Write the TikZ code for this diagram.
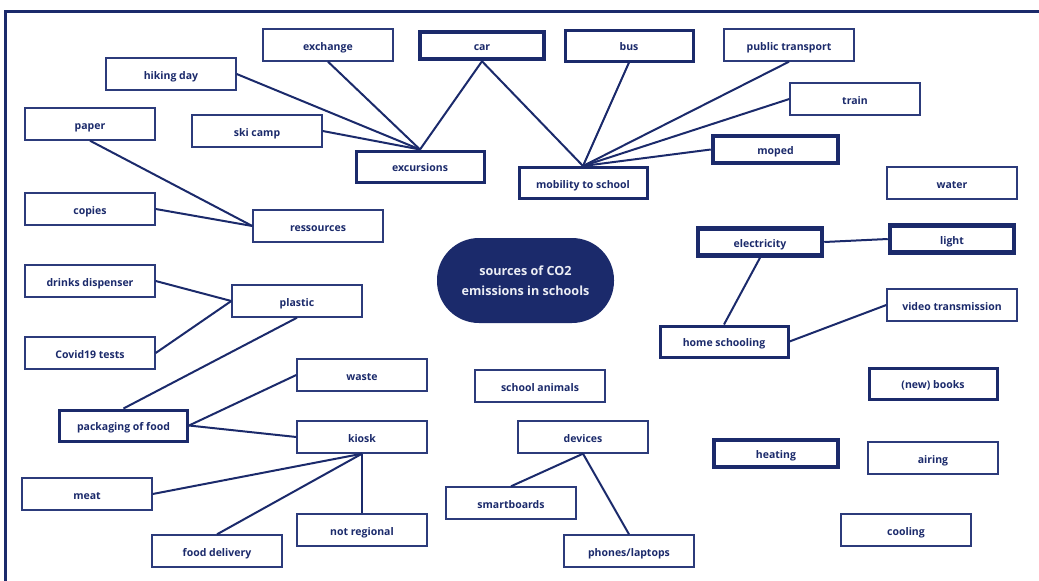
\documentclass[tikz,border=0pt]{standalone}
\usepackage{fontspec}
\setmainfont{Open Sans}
\definecolor{navy}{HTML}{1B2A6B}
\definecolor{thinline}{HTML}{2C3B7B}
\definecolor{paletext}{HTML}{ECEEF5}
\tikzset{
  box/.style={draw=thinline, line width=1.4pt, minimum width=130pt, minimum height=32pt, inner sep=0pt,
    text=navy, font=\fontsize{10.5}{12}\selectfont\bfseries, fill=white, text height=10pt, text depth=0pt},
  midbox/.style={box, draw=navy, line width=3pt, minimum width=128pt, minimum height=31pt},
  thickbox/.style={box, draw=navy, line width=4.5pt, minimum width=124pt, minimum height=27pt},
  link/.style={draw=navy, line width=2pt},
  hub/.style={fill=navy, text=paletext, rounded corners=42pt, minimum width=177pt, minimum height=85pt,
    inner sep=0pt, align=center, font=\fontsize{12.6}{20}\selectfont\bfseries}
}
\begin{document}
\begin{tikzpicture}[x=1pt,y=-1pt]
\useasboundingbox (0,0) rectangle (1039,581);
\draw[navy, line width=3pt] (5,600) -- (5,11) -- (1050,11);

% nodes
\node[box] (exchange) at (328,45) {exchange};
\node[thickbox] (car) at (482,45.5) {car};
\node[midbox] (bus) at (629,45.5) {bus};
\node[box] (public) at (789,45) {public transport};
\node[box] (hiking) at (171,74) {hiking day};
\node[box] (train) at (855,99) {train};
\node[box] (paper) at (90,124) {paper};
\node[box] (ski) at (257,131) {ski camp};
\node[thickbox, minimum width=125pt] (moped) at (775.5,149.5) {moped};
\node[midbox] (excursions) at (420,166.5) {excursions};
\node[midbox] (mobility) at (583,183) {mobility to school};
\node[box] (water) at (952,183) {water};
\node[box] (copies) at (90,209) {copies};
\node[box] (ressources) at (318,226) {ressources};
\node[thickbox] (electricity) at (760,242) {electricity};
\node[thickbox] (light) at (952,239) {light};
\node[hub] (hub) at (525.5,280.5) {sources of CO2\\emissions in schools};
\node[box] (drinks) at (90,281) {drinks dispenser};
\node[box] (plastic) at (297,301) {plastic};
\node[box] (video) at (952,305) {video transmission};
\node[midbox] (homeschool) at (724,341.5) {home schooling};
\node[box] (covid) at (90,353) {Covid19 tests};
\node[box] (waste) at (362,375) {waste};
\node[box] (animals) at (540,386) {school animals};
\node[midbox] (books) at (933,383.5) {(new) books};
\node[midbox] (packaging) at (123.5,425.5) {packaging of food};
\node[box] (kiosk) at (362,437) {kiosk};
\node[box] (devices) at (583,437) {devices};
\node[thickbox] (heating) at (776,453.5) {heating};
\node[box] (airing) at (933,458) {airing};
\node[box] (meat) at (87,494) {meat};
\node[box] (smart) at (511,503) {smartboards};
\node[box] (notreg) at (362,530) {not regional};
\node[box] (cooling) at (906,530) {cooling};
\node[box] (fooddel) at (217,551) {food delivery};
\node[box] (phones) at (629,551) {phones/laptops};

% connectors
\path[link] (exchange.south) -- (excursions.north);
\path[link] (hiking.east) -- (excursions.north);
\path[link] (ski.east) -- (excursions.north);
\path[link] (car.south) -- (excursions.north);
\path[link] (car.south) -- (mobility.north);
\path[link] (bus.south) -- (mobility.north);
\path[link] (public.south) -- (mobility.north);
\path[link] (train.west) -- (mobility.north);
\path[link] (moped.west) -- (mobility.north);
\path[link] (paper.south) -- (ressources.west);
\path[link] (copies.east) -- (ressources.west);
\path[link] (electricity.east) -- (light.west);
\path[link] (electricity.south) -- (homeschool.north);
\path[link] (video.west) -- (homeschool.east);
\path[link] (drinks.east) -- (plastic.west);
\path[link] (covid.east) -- (plastic.west);
\path[link] (plastic.south) -- (packaging.north);
\path[link] (packaging.east) -- (waste.west);
\path[link] (packaging.east) -- (kiosk.west);
\path[link] (kiosk.south) -- (meat.east);
\path[link] (kiosk.south) -- (fooddel.north);
\path[link] (kiosk.south) -- (notreg.north);
\path[link] (devices.south) -- (smart.north);
\path[link] (devices.south) -- (phones.north);
\end{tikzpicture}
\end{document}
